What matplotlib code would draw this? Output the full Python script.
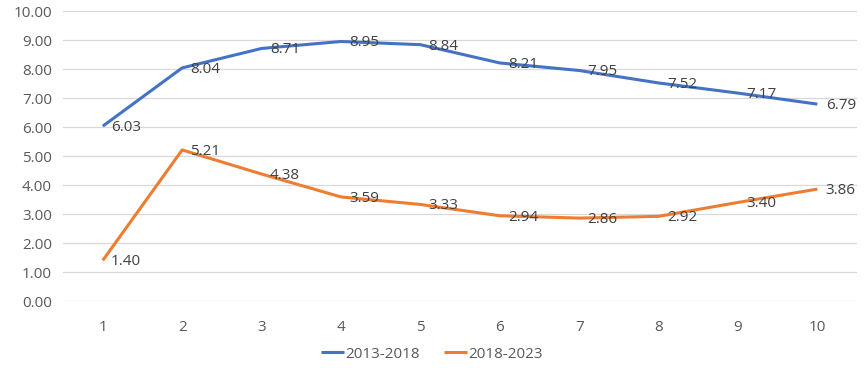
import matplotlib
matplotlib.use("Agg")
import matplotlib.pyplot as plt

plt.rcParams['font.family'] = ['Open Sans', 'DejaVu Sans']

periods = [1, 2, 3, 4, 5, 6, 7, 8, 9, 10]
series_names = ["2013-2018", "2018-2023"]
vals_2013_2018 = [6.03, 8.04, 8.71, 8.95, 8.84, 8.21, 7.95, 7.52, 7.17, 6.79]
vals_2018_2023 = [1.40, 5.21, 4.38, 3.59, 3.33, 2.94, 2.86, 2.92, 3.40, 3.86]
colors = ["#4472C4", "#ED7D31"]

fig = plt.figure(figsize=(8.64, 3.68), dpi=100)
ax = fig.add_axes([0.073, 0.182, 0.919, 0.788])

for vals, name, c in zip([vals_2013_2018, vals_2018_2023], series_names, colors):
    ax.plot(periods, vals, color=c, lw=2.2, label=name, solid_capstyle='butt')
    for x, y in zip(periods, vals):
        ax.annotate(f"{y:.2f}", (x, y), xytext=(6, -1), textcoords='offset points',
                    ha='left', va='center', fontsize=11, color='#404040')

ax.set_xlim(0.5, 10.5)
ax.set_ylim(0, 10)
ax.set_yticks([i for i in range(0, 11)])
ax.set_yticklabels([f"{i:.2f}" for i in range(0, 11)])
ax.set_xticks(periods)
ax.tick_params(length=0, labelsize=11, labelcolor='#595959')
ax.tick_params(axis='x', pad=14)
ax.tick_params(axis='y', pad=8)
ax.grid(axis='y', color='#D9D9D9', lw=0.9)
ax.set_axisbelow(True)
for s in ax.spines.values():
    s.set_visible(False)

fig.legend(loc='lower center', bbox_to_anchor=(0.5, -0.02), ncol=2, frameon=False,
           fontsize=11, labelcolor='#595959', handlelength=1.5, handletextpad=0.1,
           columnspacing=1.6)

fig.savefig("out.png", dpi=100)
